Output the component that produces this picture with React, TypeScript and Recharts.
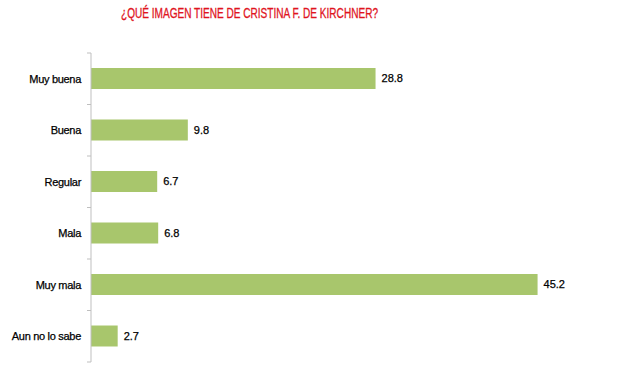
import { BarChart, Bar, XAxis, YAxis, LabelList } from "recharts";

const categories = ["Muy buena", "Buena", "Regular", "Mala", "Muy mala", "Aun no lo sabe"];
const values = [28.8, 9.8, 6.7, 6.8, 45.2, 2.7];
const title = "¿QUÉ IMAGEN TIENE DE CRISTINA F. DE KIRCHNER?";

const data = categories.map((name, i) => ({ name, value: values[i] }));

const TOP = 53;
const BOTTOM = 3;
const HEIGHT = 365;
const BAND = (HEIGHT - TOP - BOTTOM) / categories.length;

function CategoryTick({ x, y, payload, index }: any) {
  return (
    <g>
      <text
        x={x - 10}
        y={y}
        dy={4}
        textAnchor="end"
        fontSize={11}
        letterSpacing={-0.3}
        fill="#000"
        stroke="#000"
        strokeWidth={0.25}
      >
        {payload.value}
      </text>
      <line x1={x - 4} x2={x} y1={y - BAND / 2} y2={y - BAND / 2} stroke="#bfbfbf" />
      {index === categories.length - 1 && (
        <line x1={x - 4} x2={x} y1={y + BAND / 2} y2={y + BAND / 2} stroke="#bfbfbf" />
      )}
    </g>
  );
}

export default function App() {
  return (
    <div style={{ position: "absolute", left: 0, top: 0, width: 626, height: 365, background: "#fff", fontFamily: "'Liberation Sans', Arial, sans-serif" }}>
      <svg width={626} height={30} style={{ position: "absolute", left: 0, top: 0 }}>
        <text
          x={121}
          y={18}
          fontSize={14}
          fill="#e0141e"
          stroke="#e0141e"
          strokeWidth={0.3}
          textLength={257}
          lengthAdjust="spacingAndGlyphs"
          fontFamily="'Liberation Sans', Arial, sans-serif"
        >
          {title}
        </text>
      </svg>
      <BarChart
        width={626}
        height={HEIGHT}
        data={data}
        layout="vertical"
        margin={{ top: TOP, right: 41, bottom: BOTTOM, left: 0 }}
      >
        <XAxis type="number" domain={[0, 50]} hide />
        <YAxis
          type="category"
          dataKey="name"
          width={91}
          axisLine={{ stroke: "#bfbfbf" }}
          tickLine={false}
          tickSize={0}
          tickMargin={0}
          tick={<CategoryTick />}
          interval={0}
        />
        <Bar dataKey="value" fill="#a8c66c" barSize={21} isAnimationActive={false}>
          <LabelList
            dataKey="value"
            position="right"
            offset={6}
            fontSize={11}
            fill="#000"
            stroke="#000"
            strokeWidth={0.25}
            formatter={(v: any) => Number(v).toFixed(1)}
          />
        </Bar>
      </BarChart>
    </div>
  );
}
